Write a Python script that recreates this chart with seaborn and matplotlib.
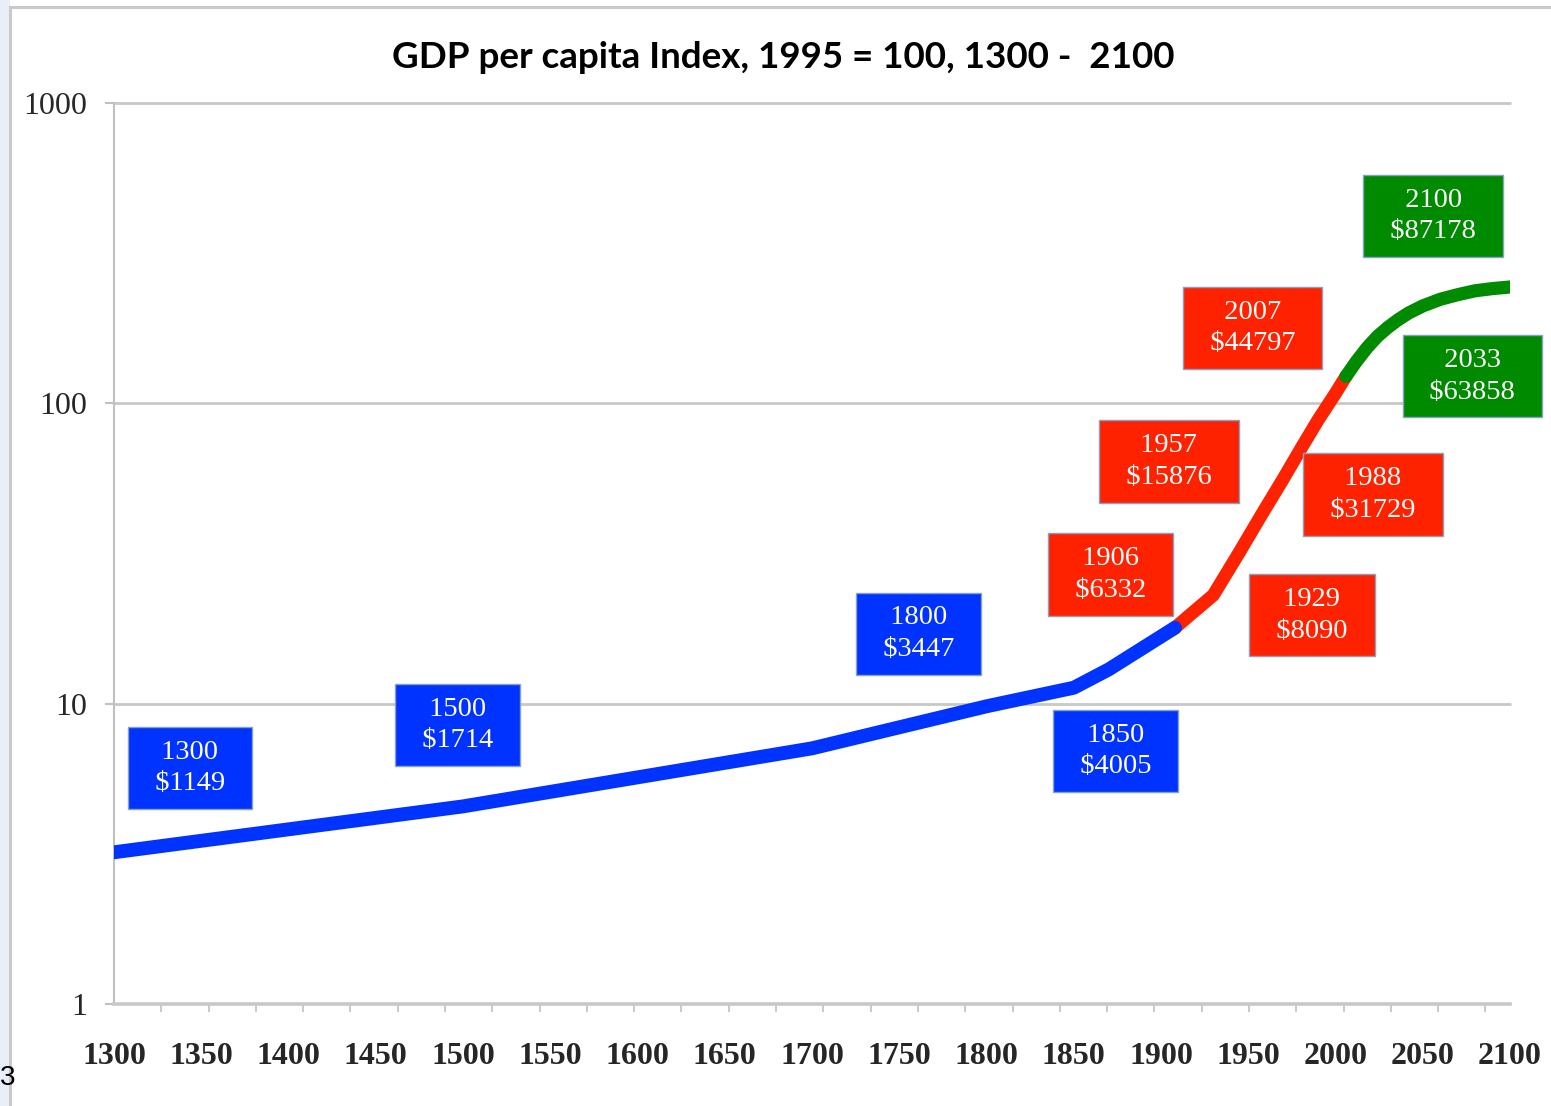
import numpy as np
import pandas as pd
import matplotlib
matplotlib.use("Agg")
import matplotlib.pyplot as plt
from matplotlib.patches import Rectangle
import seaborn as sns

# ---------------- data ----------------
# GDP per capita index (1995 = 100)
blue_years = [1300, 1500, 1700, 1800, 1850, 1870, 1908]
blue_index = [3.2, 4.55, 7.1, 9.8, 11.3, 13.0, 17.9]

red_years = [1908, 1930, 1945, 1957, 1970, 1981, 1990, 2000, 2006]
red_index = [17.9, 23.0, 32.0, 42.0, 56.0, 72.0, 88.0, 108.0, 123.0]

green_years = [2006, 2012, 2018, 2024, 2030, 2036, 2042, 2050, 2060, 2070, 2080, 2090, 2100]
green_index = [123.0, 138.0, 153.0, 167.0, 179.0, 190.0, 200.0, 211.0, 222.0, 230.0, 237.0, 241.0, 244.0]

label_years = ["1300", "1500", "1800", "1850", "1906", "1957", "1929", "1988", "2007", "2033", "2100"]
label_values = ["$1149", "$1714", "$3447", "$4005", "$6332", "$15876", "$8090", "$31729", "$44797", "$63858", "$87178"]
label_group = ["blue", "blue", "blue", "blue", "red", "red", "red", "red", "red", "green", "green"]

x_tick_labels = [str(y) for y in range(1300, 2101, 50)]
y_tick_values = [1, 10, 100, 1000]
y_tick_labels = ["1", "10", "100", "1000"]

title = "GDP per capita Index, 1995 = 100, 1300 -  2100"

# ---------------- styles / positions ----------------
colors = {"blue": "#0033ff", "red": "#ff2200", "green": "#008a00"}
# label box centres (year, index) on the chart
label_pos_x = [1343.5, 1497, 1761, 1874, 1871, 1904.5, 1986.5, 2021.5, 1952.5, 2078.5, 2056]
label_pos_y = [6.1, 8.5, 17.1, 6.95, 26.9, 64.0, 19.7, 49.7, 178, 123, 420]

sns.set_style("white")
plt.rcParams["font.family"] = ["DejaVu Sans"]

fig = plt.figure(figsize=(15.51, 11.06), dpi=100)
fig.patch.set_facecolor("white")

# slide background: pale blue strip + grey frame
bg1 = Rectangle((0, 0), 10 / 1551, 1, transform=fig.transFigure,
                facecolor="#e9eef8", edgecolor="none", zorder=-10)
bg2 = Rectangle((10 / 1551, -0.1), 1.2, (1106 - 7) / 1106 + 0.1,
                transform=fig.transFigure, facecolor="white",
                edgecolor="#c9c9c9", lw=2.2, zorder=-9)
fig.add_artist(bg1)
fig.add_artist(bg2)
fig.text(0.0, 1 - 1078 / 1106, "3", ha="left", va="center",
         fontsize=20, family="Liberation Sans", color="black", zorder=5)

ax = fig.add_axes([114 / 1551, (1106 - 1004) / 1106, (1510 - 114) / 1551, (1004 - 103) / 1106])
ax.set_zorder(2)
ax.set_facecolor("white")

df_red = pd.DataFrame({"year": red_years, "index": red_index})
df_blue = pd.DataFrame({"year": blue_years, "index": blue_index})
df_green = pd.DataFrame({"year": green_years, "index": green_index})

sns.lineplot(data=df_red, x="year", y="index", ax=ax, color=colors["red"], lw=9.5,
             solid_capstyle="round", solid_joinstyle="round", zorder=3, sort=False)
sns.lineplot(data=df_blue, x="year", y="index", ax=ax, color=colors["blue"], lw=10,
             solid_capstyle="round", solid_joinstyle="round", zorder=4, sort=False)
sns.lineplot(data=df_green, x="year", y="index", ax=ax, color=colors["green"], lw=9.5,
             solid_capstyle="round", solid_joinstyle="round", zorder=4, sort=False)

ax.set_yscale("log")
ax.set_ylim(1, 1000)
ax.set_xlim(1300, 2100)

# grid lines
for v in y_tick_values[1:]:
    ax.axhline(v, color="#c8c8c8", lw=2.0, zorder=1, clip_on=False)

for s in ["top", "right"]:
    ax.spines[s].set_visible(False)
ax.spines["left"].set_color("#c0c0c0")
ax.spines["left"].set_linewidth(1.5)
ax.spines["bottom"].set_color("#c8c8c8")
ax.spines["bottom"].set_linewidth(2.6)

ax.set_yticks(y_tick_values)
ax.set_yticklabels(y_tick_labels, family="Liberation Serif", fontsize=23)
ax.yaxis.set_minor_locator(matplotlib.ticker.NullLocator())
ax.tick_params(axis="y", which="major", direction="out", length=6.5, width=1.5,
               color="#c0c0c0", pad=13, left=True)

ax.set_xticks(range(1300, 2101, 50))
ax.set_xticklabels(x_tick_labels, family="Liberation Serif", fontweight="bold", fontsize=23)
ax.set_xticks(np.arange(1300, 2100, 27.1), minor=True)
ax.tick_params(axis="x", which="major", length=0, pad=27, bottom=True)
ax.tick_params(axis="x", which="minor", direction="out", length=6, width=1.2,
               color="#c0c0c0", bottom=True)
ax.set_xlabel("")
ax.set_ylabel("")

# label boxes
for yr, val, grp, px, py in zip(label_years, label_values, label_group, label_pos_x, label_pos_y):
    ax.text(px, py, f"  {yr}  \n  {val}  ", ha="center", va="center", color="white",
            family="Liberation Serif", fontsize=20.5, linespacing=1.35, zorder=6,
            bbox=dict(boxstyle="square,pad=0.45", facecolor=colors[grp],
                      edgecolor="#88a2c6", lw=1.0))

fig.text(783 / 1551, 1 - 57 / 1106, title, ha="center", va="center",
         family="Lato", fontweight="bold", fontsize=26.5, color="black")

fig.savefig("out.png", dpi=100, facecolor="white")
